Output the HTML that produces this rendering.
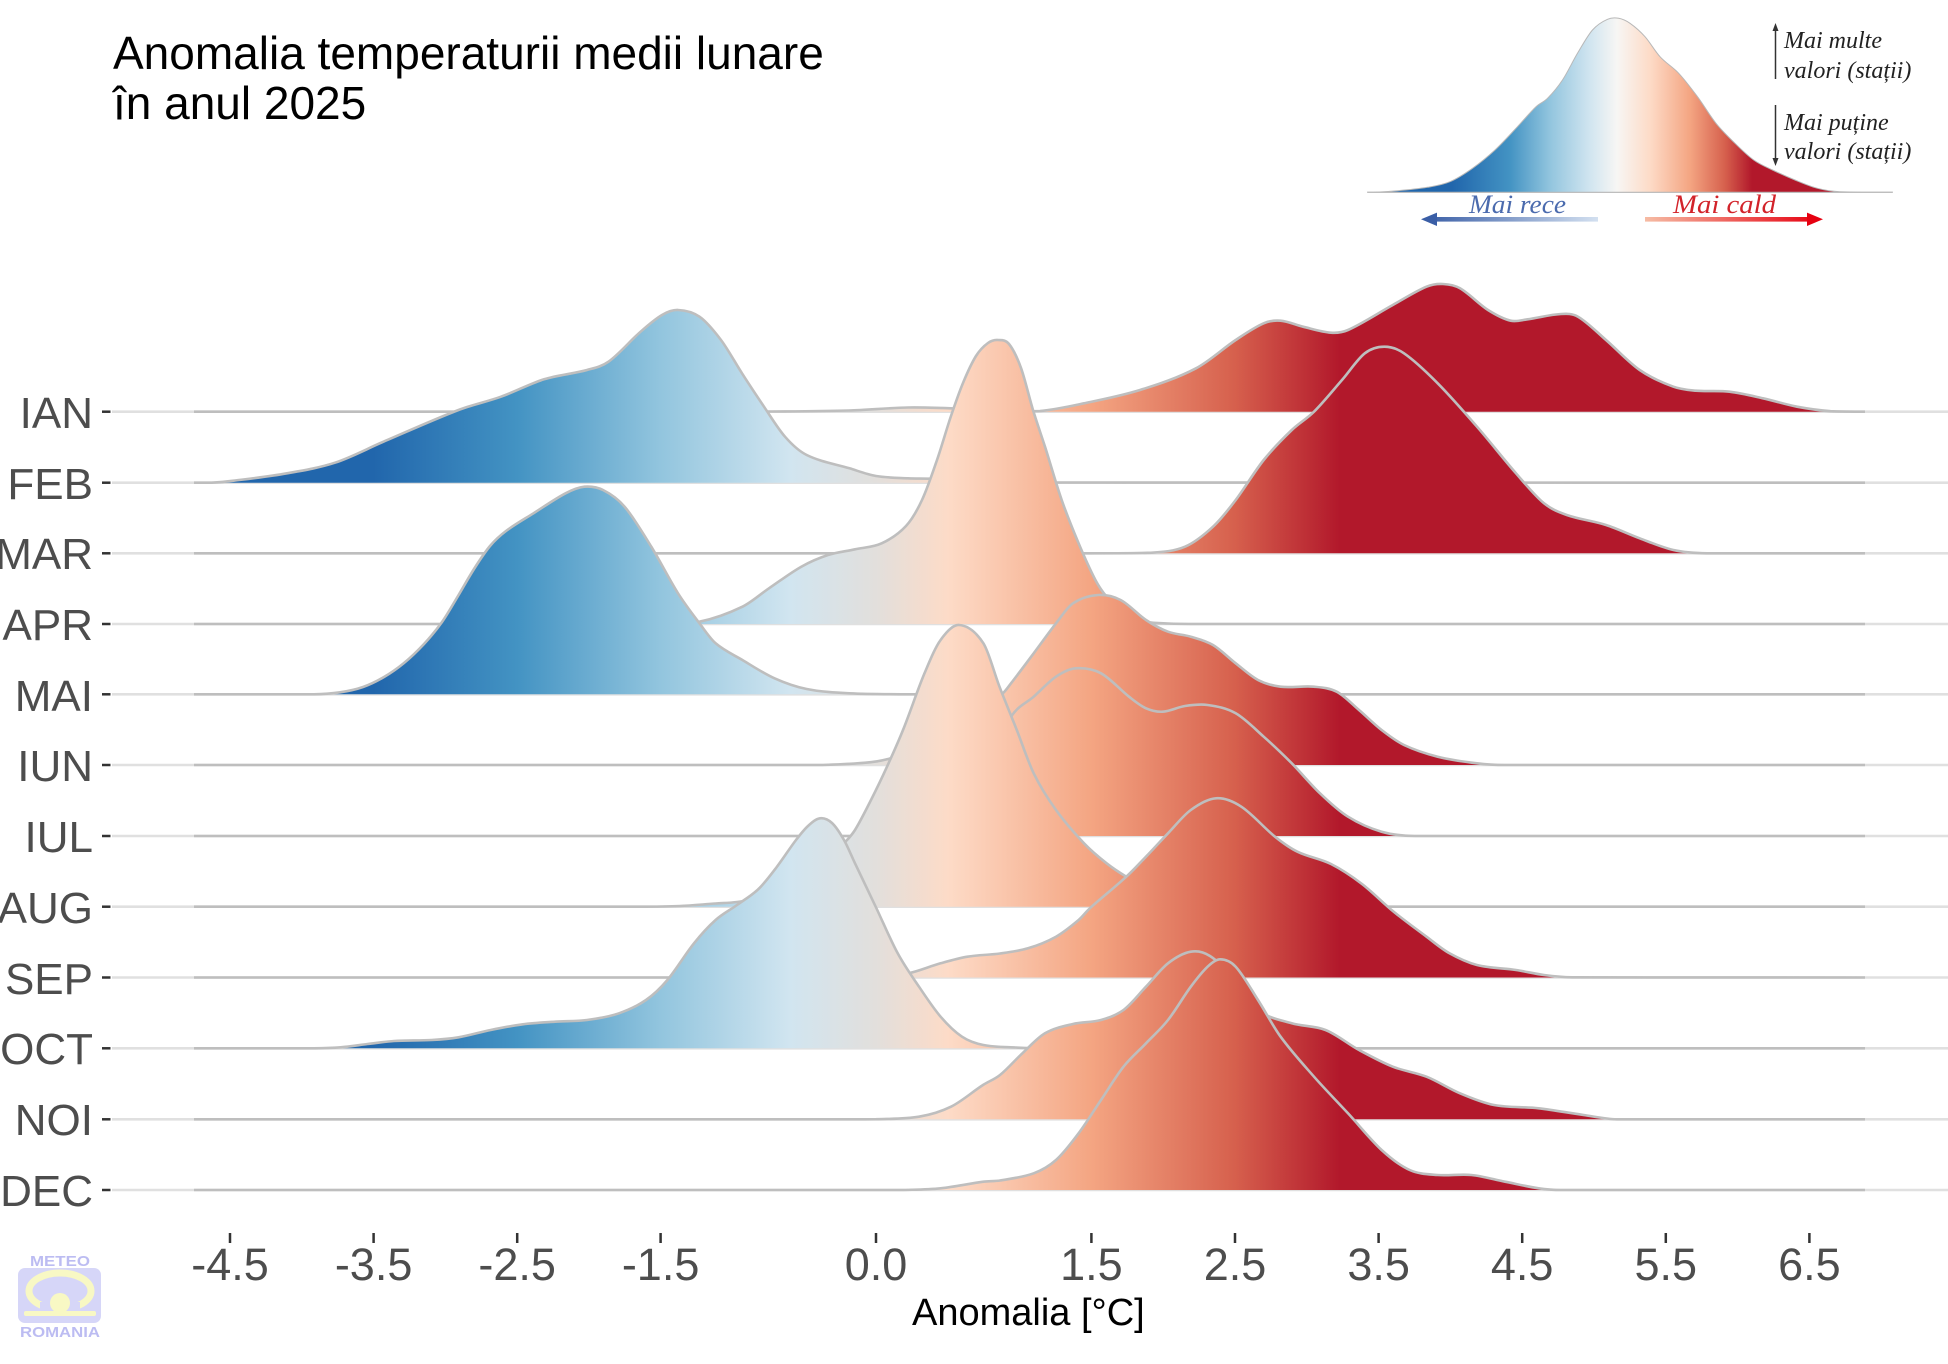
<!DOCTYPE html>
<html>
<head>
<meta charset="utf-8">
<style>
  html,body{margin:0;padding:0;background:#ffffff;}
  svg{display:block;}
</style>
</head>
<body>
<svg id="chart" xmlns="http://www.w3.org/2000/svg" width="1948" height="1364" viewBox="0 0 1948 1364">
  <defs>
    <linearGradient id="rg" gradientUnits="userSpaceOnUse" x1="373" y1="0" x2="1340" y2="0">
      <stop offset="0" stop-color="#2166ac"/>
      <stop offset="0.149" stop-color="#4393c3"/>
      <stop offset="0.297" stop-color="#92c5de"/>
      <stop offset="0.431" stop-color="#d1e5f0"/>
      <stop offset="0.520" stop-color="#e2dfdc"/>
      <stop offset="0.595" stop-color="#fddbc7"/>
      <stop offset="0.743" stop-color="#f4a582"/>
      <stop offset="0.891" stop-color="#d6604d"/>
      <stop offset="1" stop-color="#b2182b"/>
    </linearGradient>
    <linearGradient id="lg" gradientUnits="userSpaceOnUse" x1="1452" y1="0" x2="1752" y2="0">
      <stop offset="0" stop-color="#2166ac"/>
      <stop offset="0.193" stop-color="#4393c3"/>
      <stop offset="0.327" stop-color="#92c5de"/>
      <stop offset="0.46" stop-color="#d1e5f0"/>
      <stop offset="0.55" stop-color="#f7f6f4"/>
      <stop offset="0.66" stop-color="#fddbc7"/>
      <stop offset="0.793" stop-color="#f4a582"/>
      <stop offset="0.91" stop-color="#d6604d"/>
      <stop offset="1" stop-color="#b2182b"/>
    </linearGradient>
    <linearGradient id="ab" gradientUnits="userSpaceOnUse" x1="1425" y1="0" x2="1598" y2="0">
      <stop offset="0" stop-color="#3a5ea6"/>
      <stop offset="1" stop-color="#d3e0f0"/>
    </linearGradient>
    <linearGradient id="ar" gradientUnits="userSpaceOnUse" x1="1645" y1="0" x2="1820" y2="0">
      <stop offset="0" stop-color="#f6bca4"/>
      <stop offset="1" stop-color="#e60010"/>
    </linearGradient>
  </defs>

  <!-- Title -->
  <text x="113" y="69" font-family="Liberation Sans, Arial, sans-serif" font-size="46" fill="#000">Anomalia temperaturii medii lunare</text>
  <text x="113" y="119" font-family="Liberation Sans, Arial, sans-serif" font-size="46" fill="#000">în anul 2025</text>

  <!-- Legend -->
  <g id="legend">
    <line x1="1367" y1="192.3" x2="1893" y2="192.3" stroke="#d2d2d2" stroke-width="1.5"/>
    <path id="legpath" fill="url(#lg)" stroke="#b8b8b8" stroke-width="1"/>
    <g font-family="Liberation Serif, Times New Roman, serif" font-style="italic" font-size="24" fill="#222">
      <text x="1784" y="48">Mai multe</text>
      <text x="1784" y="78">valori (stații)</text>
      <text x="1784" y="130">Mai puține</text>
      <text x="1784" y="159">valori (stații)</text>
    </g>
    <line x1="1775.5" y1="30" x2="1775.5" y2="79" stroke="#333" stroke-width="1.5"/>
    <polygon points="1775.5,23 1772.5,31 1778.5,31" fill="#333"/>
    <line x1="1775.5" y1="105" x2="1775.5" y2="159" stroke="#333" stroke-width="1.5"/>
    <polygon points="1775.5,166 1772.5,158 1778.5,158" fill="#333"/>
    <text x="1469" y="213" font-family="Liberation Serif, Times New Roman, serif" font-style="italic" font-size="26" fill="#4b6bae" textLength="97" lengthAdjust="spacingAndGlyphs">Mai rece</text>
    <text x="1673" y="213" font-family="Liberation Serif, Times New Roman, serif" font-style="italic" font-size="26" fill="#d2232a" textLength="103" lengthAdjust="spacingAndGlyphs">Mai cald</text>
    <rect x="1434" y="217" width="164" height="4.6" fill="url(#ab)"/>
    <polygon points="1421,219.3 1437,212.6 1437,226" fill="#3a5ea6"/>
    <rect x="1645" y="217" width="165" height="4.6" fill="url(#ar)"/>
    <polygon points="1823,219.3 1807,212.6 1807,226" fill="#e60010"/>
  </g>

  <!-- grid lines -->
  <g id="grid" stroke="#e0e0e0" stroke-width="2.6"></g>

  <!-- ridges -->
  <g id="ridges"></g>

  <!-- y axis labels + ticks -->
  <g font-family="Liberation Sans, Arial, sans-serif" font-size="44" fill="#4d4d4d" text-anchor="end">
    <text x="93" y="428">IAN</text>
    <text x="93" y="499">FEB</text>
    <text x="93" y="569">MAR</text>
    <text x="93" y="640">APR</text>
    <text x="93" y="711">MAI</text>
    <text x="93" y="781">IUN</text>
    <text x="93" y="852">IUL</text>
    <text x="93" y="923">AUG</text>
    <text x="93" y="994">SEP</text>
    <text x="93" y="1064">OCT</text>
    <text x="93" y="1135">NOI</text>
    <text x="93" y="1206">DEC</text>
  </g>
  <g id="yticks" stroke="#333" stroke-width="2.5"></g>

  <!-- x axis ticks and labels -->
  <g id="xticks" stroke="#333" stroke-width="2.5"></g>
  <g font-family="Liberation Sans, Arial, sans-serif" font-size="45" fill="#4d4d4d" text-anchor="middle">
    <text x="230" y="1280">-4.5</text>
    <text x="373.6" y="1280">-3.5</text>
    <text x="517.2" y="1280">-2.5</text>
    <text x="660.6" y="1280">-1.5</text>
    <text x="876" y="1280">0.0</text>
    <text x="1091.4" y="1280">1.5</text>
    <text x="1235" y="1280">2.5</text>
    <text x="1378.6" y="1280">3.5</text>
    <text x="1522.2" y="1280">4.5</text>
    <text x="1665.8" y="1280">5.5</text>
    <text x="1809.4" y="1280">6.5</text>
  </g>
  <text x="912" y="1325" font-family="Liberation Sans, Arial, sans-serif" font-size="38" fill="#000">Anomalia [°C]</text>

  <!-- logo -->
  <g>
    <text x="30" y="1266" font-family="Liberation Sans, Arial, sans-serif" font-weight="bold" font-size="15" fill="#bcbcf2" textLength="60" lengthAdjust="spacingAndGlyphs">METEO</text>
    <rect x="18" y="1268" width="83" height="55" rx="7" fill="#d6d6f8"/>
    <ellipse cx="60" cy="1291" rx="31" ry="18" fill="none" stroke="#f8f8c4" stroke-width="7"/>
    <rect x="40" y="1302" width="40" height="10" fill="#d6d6f8"/>
    <circle cx="60" cy="1303" r="10" fill="#f8f8c4"/>
    <rect x="24" y="1311" width="72" height="5" rx="2" fill="#f8f8c4"/>
    <text x="20" y="1337" font-family="Liberation Sans, Arial, sans-serif" font-weight="bold" font-size="15" fill="#bcbcf2" textLength="80" lengthAdjust="spacingAndGlyphs">ROMANIA</text>
  </g>
</svg>

<script>
(function(){
  var NS = "http://www.w3.org/2000/svg";
  function el(name, attrs, parent){
    var e = document.createElementNS(NS, name);
    for (var k in attrs) e.setAttribute(k, attrs[k]);
    parent.appendChild(e);
    return e;
  }
  function smooth(p, b){
    var n = p.length, m = [];
    for (var i=0;i<n;i++){
      if (i===0 || i===n-1){ m.push(0); continue; }
      var dx = p[i+1][0]-p[i-1][0];
      m.push(dx ? (p[i+1][1]-p[i-1][1])/dx : 0);
    }
    var d = "M"+p[0][0]+","+p[0][1];
    for (var j=0;j<n-1;j++){
      var x1=p[j][0], y1=p[j][1], x2=p[j+1][0], y2=p[j+1][1];
      var h=(x2-x1)/3;
      var c1x=x1+h, c1y=y1+m[j]*h, c2x=x2-h, c2y=y2-m[j+1]*h;
      if (c1y>b) c1y=b; if (c2y>b) c2y=b;
      d += "C"+c1x.toFixed(1)+","+c1y.toFixed(1)+" "+c2x.toFixed(1)+","+c2y.toFixed(1)+" "+x2+","+y2;
    }
    return d;
  }

  var R = [
    {b:411.7, p:[[194,411.7],[700,411.7],[769,411.5],[849,410.5],[908,407.5],[955,408.5],[1000,411],[1040,411],[1084,403.3],[1140,390],[1196,368.3],[1235.7,340],[1263.7,323.3],[1280.6,320.7],[1303,326.7],[1331,332.7],[1348,330],[1392.8,305],[1426.5,286.7],[1443,284],[1460,288.3],[1488,310],[1510.7,320.7],[1527.5,319.3],[1561,314],[1578,316.7],[1606,340],[1639.7,370],[1673.4,386.7],[1695.8,390.7],[1729.5,391.7],[1763,398.3],[1797,406.7],[1830.5,411.2],[1865,411.7]]},
    {b:482.7, p:[[194,482.7],[212,482.7],[233.6,480.7],[287,473.3],[335,462.7],[383.5,441.7],[458.5,410],[501,396.7],[544,379.3],[587,370],[608.5,361.7],[640.6,331.7],[662,315],[678,310],[699.5,316.7],[721,340],[742,373.3],[764,406.7],[785,436.7],[806.7,455],[849.5,468.3],[876,476],[908,478.3],[930,478.7],[970,481],[1010,482.5],[1865,482.7]]},
    {b:553.3, p:[[194,553.3],[1084,553.3],[1151.5,552.7],[1185,546.7],[1213,526.7],[1235.7,500],[1263.7,460],[1291.8,430],[1314,411.7],[1342,380],[1364.8,353.3],[1384.4,346.7],[1404,353.3],[1437.7,383.3],[1477,426.7],[1516,473.3],[1544,503.3],[1566.8,515],[1606,525],[1639.7,538.3],[1673.4,550],[1707,553.3],[1865,553.3]]},
    {b:624, p:[[194,624],[600,624],[660,623.5],[699.5,621.7],[742.4,606.7],[769,588.3],[801.3,566.7],[828,555],[855,549.3],[881.7,543.3],[906,526],[922,500],[937,460],[951,416],[963,383],[976,356],[988,343],[998,340],[1009,344],[1021,368],[1033,410],[1045,446.7],[1061.7,500],[1078.6,543.3],[1095.4,580],[1106.6,596.7],[1123.5,613.3],[1146,621.7],[1168,623.5],[1200,624],[1865,624]]},
    {b:694.3, p:[[194,694.3],[314,694.3],[340,692.3],[363,687],[384,677],[404,663],[424,644],[442,622],[458,596],[474,569],[490,546],[506,531],[533.5,513.3],[565.6,493.3],[584.4,486.7],[603,490],[624.6,506.7],[651.3,546.7],[678,593.3],[699.5,623.3],[715.6,643.3],[742.4,660],[774.5,678.3],[806.7,689],[849.5,693.3],[913.8,694.3],[1865,694.3]]},
    {b:765, p:[[194,765],[800,765],[822.8,765],[865.6,762.7],[887,759.3],[920,748],[960,725],[1002.8,693.3],[1011,683.3],[1033.7,653.3],[1056,623.3],[1073,603.3],[1098.2,595],[1120.6,600],[1146,620],[1168,631.7],[1190.8,636.7],[1213,645],[1235.7,663.3],[1258,680],[1280.6,686.7],[1314,686.7],[1336.7,691.7],[1359,710],[1381.6,730],[1404,745],[1437.7,756.7],[1477,763.3],[1505,765],[1865,765]]},
    {b:836, p:[[194,836],[860,836],[900,835],[930,828],[960,805],[985,770],[1011,716.7],[1033.7,696.7],[1056,676.7],[1075.8,668.3],[1101,673.3],[1129,696.7],[1146,708.3],[1162.7,711.7],[1185,706],[1207.6,705],[1235.7,713.3],[1263.7,736.7],[1291.8,763.3],[1320,793.3],[1348,816.7],[1381.6,831.7],[1415,836],[1865,836]]},
    {b:906.7, p:[[194,906.7],[640,906.7],[680,906],[715.6,903.5],[737,902],[760,898],[790,888],[820,868],[844,843.3],[855,830],[871,800],[887,766.7],[903,730],[924.5,673.3],[940.6,640],[959.3,625],[983.4,643.3],[999.5,686.7],[1016.8,730],[1033.7,773.3],[1056,810],[1084,843.3],[1106.6,863.3],[1126.3,876.7],[1150,890],[1180,900],[1220,906],[1260,906.7],[1865,906.7]]},
    {b:977.5, p:[[194,977.5],[850,977.5],[880,976.5],[908.5,973.3],[940.6,963.3],[967.4,956.7],[1000,953.5],[1028,948.3],[1056,936.7],[1078.6,920],[1089.8,908.3],[1126.3,876.7],[1146,856.7],[1168,833.3],[1190.8,810],[1216,798.3],[1241.3,806.7],[1275,836.7],[1297.4,851.7],[1331,864],[1362,884],[1392.8,911],[1426.5,936.7],[1449,953],[1477,965],[1516,970],[1544,975],[1572,977.3],[1865,977.5]]},
    {b:1048.3, p:[[194,1048.3],[314,1048.3],[340.7,1047.3],[367.5,1044],[394,1041],[431.7,1040],[458.5,1037.3],[490.7,1030],[522.8,1024.3],[555,1021.7],[587,1020],[619,1013.3],[646,1000],[667.4,980],[694,943.3],[715.6,920],[737,905],[758.5,889],[776,868],[796,840],[808,826],[820,818.3],[832,823],[844,840],[855,863.3],[876.3,908],[897.7,953.3],[919,986.7],[940.6,1016.7],[962,1036.7],[983.4,1045],[1015.6,1047.5],[1050,1048.3],[1865,1048.3]]},
    {b:1119.3, p:[[194,1119.3],[850,1119.3],[876.3,1119.2],[919,1116.7],[951,1106.7],[983,1085],[1000,1075],[1022.4,1053.3],[1045,1033.3],[1073,1024],[1101,1020],[1123.5,1010],[1146,986.7],[1168,963.3],[1190.8,951.7],[1210,956],[1235,980],[1258,1010],[1291.8,1023.3],[1325.5,1030],[1359,1050],[1392.8,1066.7],[1426.5,1076.7],[1460,1093.3],[1494,1105],[1538.7,1108.3],[1583.6,1115],[1617,1119.3],[1865,1119.3]]},
    {b:1190, p:[[194,1190],[880,1190],[903,1190],[940.6,1188.3],[983.4,1181.7],[1000,1180.5],[1033.7,1173.3],[1056,1160],[1078.6,1133.3],[1101,1100],[1123.5,1066.7],[1146,1043.3],[1168,1020],[1190.8,986.7],[1207.6,966.7],[1220,959.3],[1235.7,966.7],[1258,1000],[1280.6,1036.7],[1314,1076.7],[1348,1113.3],[1381.6,1150],[1409.7,1170],[1437.7,1175],[1471.4,1175],[1505,1181.7],[1538.7,1188.3],[1561,1190],[1865,1190]]}
  ];

  var grid = document.getElementById("grid");
  var rg = document.getElementById("ridges");
  var yt = document.getElementById("yticks");
  R.forEach(function(r){
    el("line",{x1:112,y1:r.b,x2:1948,y2:r.b},grid);
    el("line",{x1:102,y1:r.b,x2:110.5,y2:r.b},yt);
  });
  R.forEach(function(r){
    var d = smooth(r.p, r.b);
    el("path",{d:d+"Z", fill:"url(#rg)", stroke:"none"},rg);
    el("path",{d:d, fill:"none", stroke:"#bebebe", "stroke-width":"2.6", "stroke-linejoin":"round"},rg);
  });

  var xt = document.getElementById("xticks");
  [230,373.6,517.2,660.6,876,1091.4,1235,1378.6,1522.2,1665.8,1809.4].forEach(function(x){
    el("line",{x1:x,y1:1233,x2:x,y2:1243},xt);
  });

  var L = [[1367.5,192.3],[1397.5,190.7],[1427.5,187.3],[1450,181.7],[1472.5,168.3],[1495,150],[1517.5,126.7],[1536,106.7],[1547.5,98.3],[1562.5,80],[1577.5,53.3],[1592.5,30],[1607.5,19.3],[1618.7,18.3],[1630,23.3],[1645,36.7],[1660,56.7],[1678.7,73.3],[1697.5,96.7],[1716,123.3],[1735,143.3],[1753.7,160],[1772.5,170],[1795,180],[1817.5,188.3],[1840,191.7],[1892.5,192.3]];
  document.getElementById("legpath").setAttribute("d", smooth(L,192.3)+"Z");
})();
</script>
</body>
</html>
